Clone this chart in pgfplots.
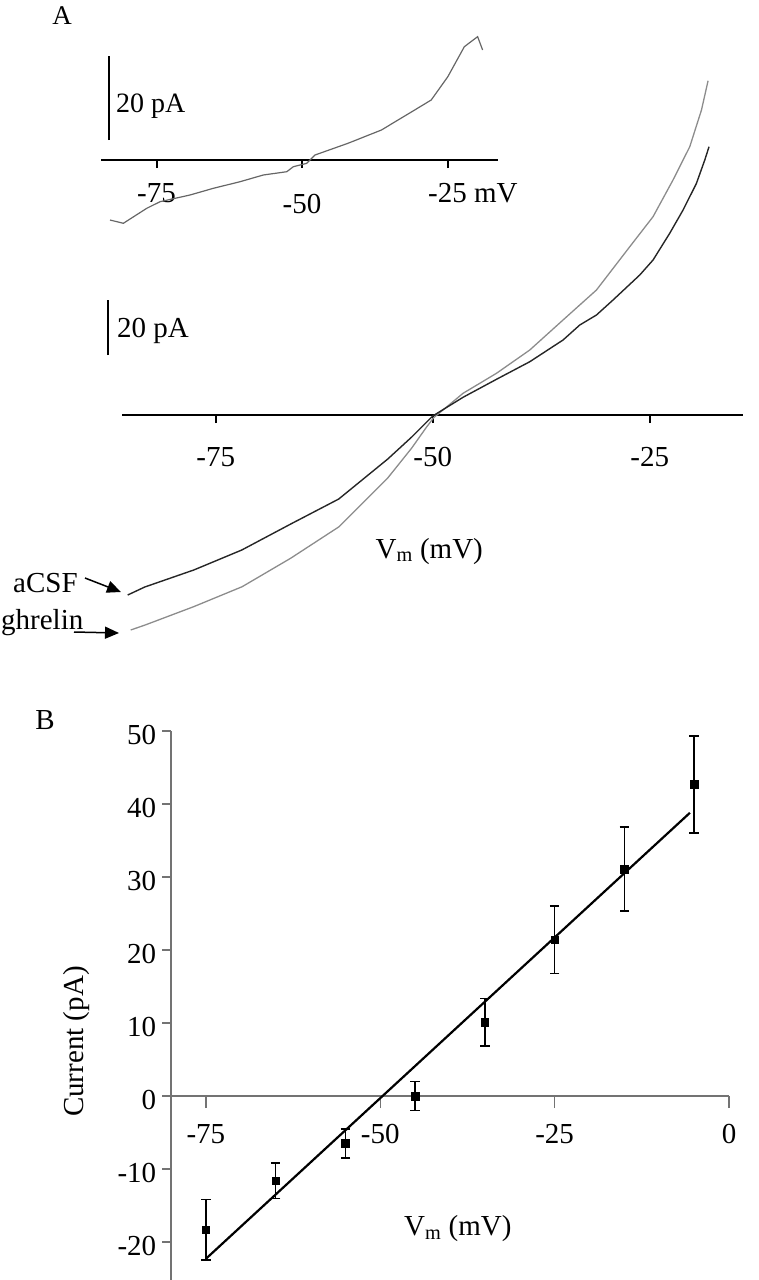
\documentclass[border=0pt]{standalone}
\usepackage{fontspec}
\setmainfont{Liberation Serif}
\usepackage{pgfplots}
\pgfplotsset{compat=1.18}
\usetikzlibrary{arrows.meta}

\tikzset{big/.style={font=\fontsize{29}{34}\selectfont}}
\pgfplotsset{
  tracesA/.style={
    axis x line=middle, axis y line=none,
    axis line style={-, line width=2pt, black},
    tick style={line width=2pt, black},
    xtick align=outside, major tick length=8pt,
    ytick=\empty, clip=false,
    hide obscured x ticks=false,
  },
}

\begin{document}
\begin{tikzpicture}
\path[use as bounding box] (0pt,0pt) rectangle (759pt,-1280pt);

% ---- A, inset: one recording
\begin{axis}[tracesA,
  at={(101pt,-231.4pt)}, anchor=south west,
  x=5.82pt, y=4.2pt,
  xmin=-84.54, xmax=-16.41, ymin=-17, ymax=32,
  xtick={-75,-50,-25},
  xticklabels={-75,\raisebox{-11pt}{-50},-25\rlap{ mV}},
  xticklabel style={big, anchor=base, yshift=-34pt},
]
\addplot[black!60, line width=1.2pt] coordinates {
  (-82.99,-14.29) (-80.70,-15.07) (-76.68,-11.50) (-74.40,-9.93)
  (-69.24,-8.33) (-65.24,-6.74) (-60.65,-5.17) (-56.65,-3.57)
  (-52.63,-2.79) (-51.49,-1.60) (-49.19,-0.79) (-47.77,1.19)
  (-42.10,3.98) (-36.36,7.14) (-30.65,11.90) (-27.80,14.29)
  (-24.95,19.83) (-22.11,26.98) (-19.83,29.36) (-18.97,26.19)
};
\draw[line width=2pt] (axis cs:-83.25,4.76) -- (axis cs:-83.25,24.76);
\end{axis}

% ---- A, main: aCSF and ghrelin
\begin{axis}[tracesA,
  at={(122pt,-648.75pt)}, anchor=south west,
  x=8.68pt, y=2.75pt,
  xmin=-85.8, xmax=-14.3, ymin=-85, ymax=125,
  xtick={-75,-50,-25}, xticklabels={-75,-50,-25},
  xticklabel style={big, anchor=base, yshift=-43pt},
  xlabel={V\textsubscript{m} (mV)},
  every axis x label/.style={big, at={(axis description cs:0.495,0.169)}, anchor=center},
]
% ghrelin
\addplot[black!45, line width=1.3pt] coordinates {
  (-84.80,-78.18) (-83.13,-76.36) (-77.55,-69.71) (-71.96,-62.44)
  (-66.38,-52.11) (-60.79,-40.62) (-55.21,-23.0) (-52.42,-12.0)
  (-50.74,-4.5) (-49.9,-1.0) (-46.51,7.89) (-42.66,15.16)
  (-38.82,23.64) (-34.99,34.55) (-31.14,45.45) (-27.30,61.2)
  (-24.62,72.11) (-22.32,85.45) (-20.39,97.56) (-19.04,110.91)
  (-18.28,121.56)
};
% aCSF
\addplot[black!85, line width=1.4pt] coordinates {
  (-85.14,-65.45) (-83.18,-62.55) (-77.53,-56.36) (-72.00,-49.09)
  (-66.36,-39.64) (-60.83,-30.55) (-55.18,-16.0) (-52.42,-8.0)
  (-50.00,-0.36) (-46.51,6.44) (-42.66,12.98) (-38.82,19.38)
  (-34.99,27.27) (-33.06,32.73) (-31.14,36.36) (-29.23,41.82)
  (-26.15,50.91) (-24.62,56.36) (-22.70,66.07) (-21.16,74.55)
  (-19.62,84.25) (-18.66,92.73) (-18.17,97.56)
};
\draw[line width=2pt] (axis cs:-87.4,21.8) -- (axis cs:-87.4,41.8);
\end{axis}

% ---- B: mean current
\begin{axis}[
  at={(171pt,-1280.7pt)}, anchor=south west,
  x=6.975pt, y=7.3pt,
  xmin=-80, xmax=0, ymin=-25.3, ymax=50,
  axis x line=middle, axis y line=left,
  axis line style={-, line width=1.3pt, black!55},
  tick style={line width=1.3pt, black!55},
  hide obscured x ticks=false, hide obscured y ticks=false,
  xtick align=outside, ytick align=outside,
  xtick style={/pgfplots/major tick length=12pt},
  ytick style={/pgfplots/major tick length=9pt},
  xtick={-75,-50,-25,0}, xticklabels={-75,-50,-25,0},
  ytick={-20,-10,0,10,20,30,40,50},
  yticklabels={-20,-10,0,10,20,30,40,50},
  xticklabel style={big, anchor=base, yshift=-43pt},
  yticklabel style={big, anchor=east, xshift=-7pt, yshift=-4pt},
  xlabel={V\textsubscript{m} (mV)},
  ylabel={Current (pA)},
  every axis x label/.style={big, at={(axis description cs:0.514,0.095)}, anchor=center},
  every axis y label/.style={big, at={(axis description cs:-0.170,0.435)}, rotate=90, anchor=center},
  clip=false,
]
\addplot[black, line width=2.2pt] coordinates {(-75,-22.3) (-5.6,38.8)};
\addplot[only marks, mark=square*, mark size=3.8pt, black,
  error bars/.cd, y dir=both, y explicit,
  error bar style={line width=1.6pt, black},
  error mark options={rotate=90, mark size=4.8pt, line width=1.6pt, black}]
  coordinates {
  (-75,-18.3) +- (0,4.15)
  (-65,-11.6) +- (0,2.45)
  (-55,-6.5) +- (0,2.0)
  (-45,0.0) +- (0,2.0)
  (-35,10.1) +- (0,3.25)
  (-25,21.4) +- (0,4.6)
  (-15,31.1) +- (0,5.75)
  (-5,42.7) +- (0,6.65)
};
\end{axis}

% ---- panel letters, scale bar labels, arrows
\node[font=\fontsize{27}{30}\selectfont, anchor=center] at (62pt,-16pt) {A};
\node[font=\fontsize{29}{32}\selectfont, anchor=center] at (45pt,-720pt) {B};
\node[font=\fontsize{28}{32}\selectfont, anchor=base west, inner sep=0pt] at (116pt,-112pt) {20 pA};
\node[big, anchor=base west, inner sep=0pt] at (117pt,-337pt) {20 pA};
\node[big, anchor=base west, inner sep=0pt] at (13pt,-592pt) {aCSF};
\node[big, anchor=base west, inner sep=0pt] at (1pt,-629pt) {ghrelin};
\draw[line width=1.5pt, -{Triangle[length=14pt, width=12pt]}] (85pt,-578pt) -- (121pt,-592pt);
\draw[line width=1.5pt, -{Triangle[length=14pt, width=12pt]}] (74pt,-632pt) -- (119pt,-633pt);
\end{tikzpicture}
\end{document}
